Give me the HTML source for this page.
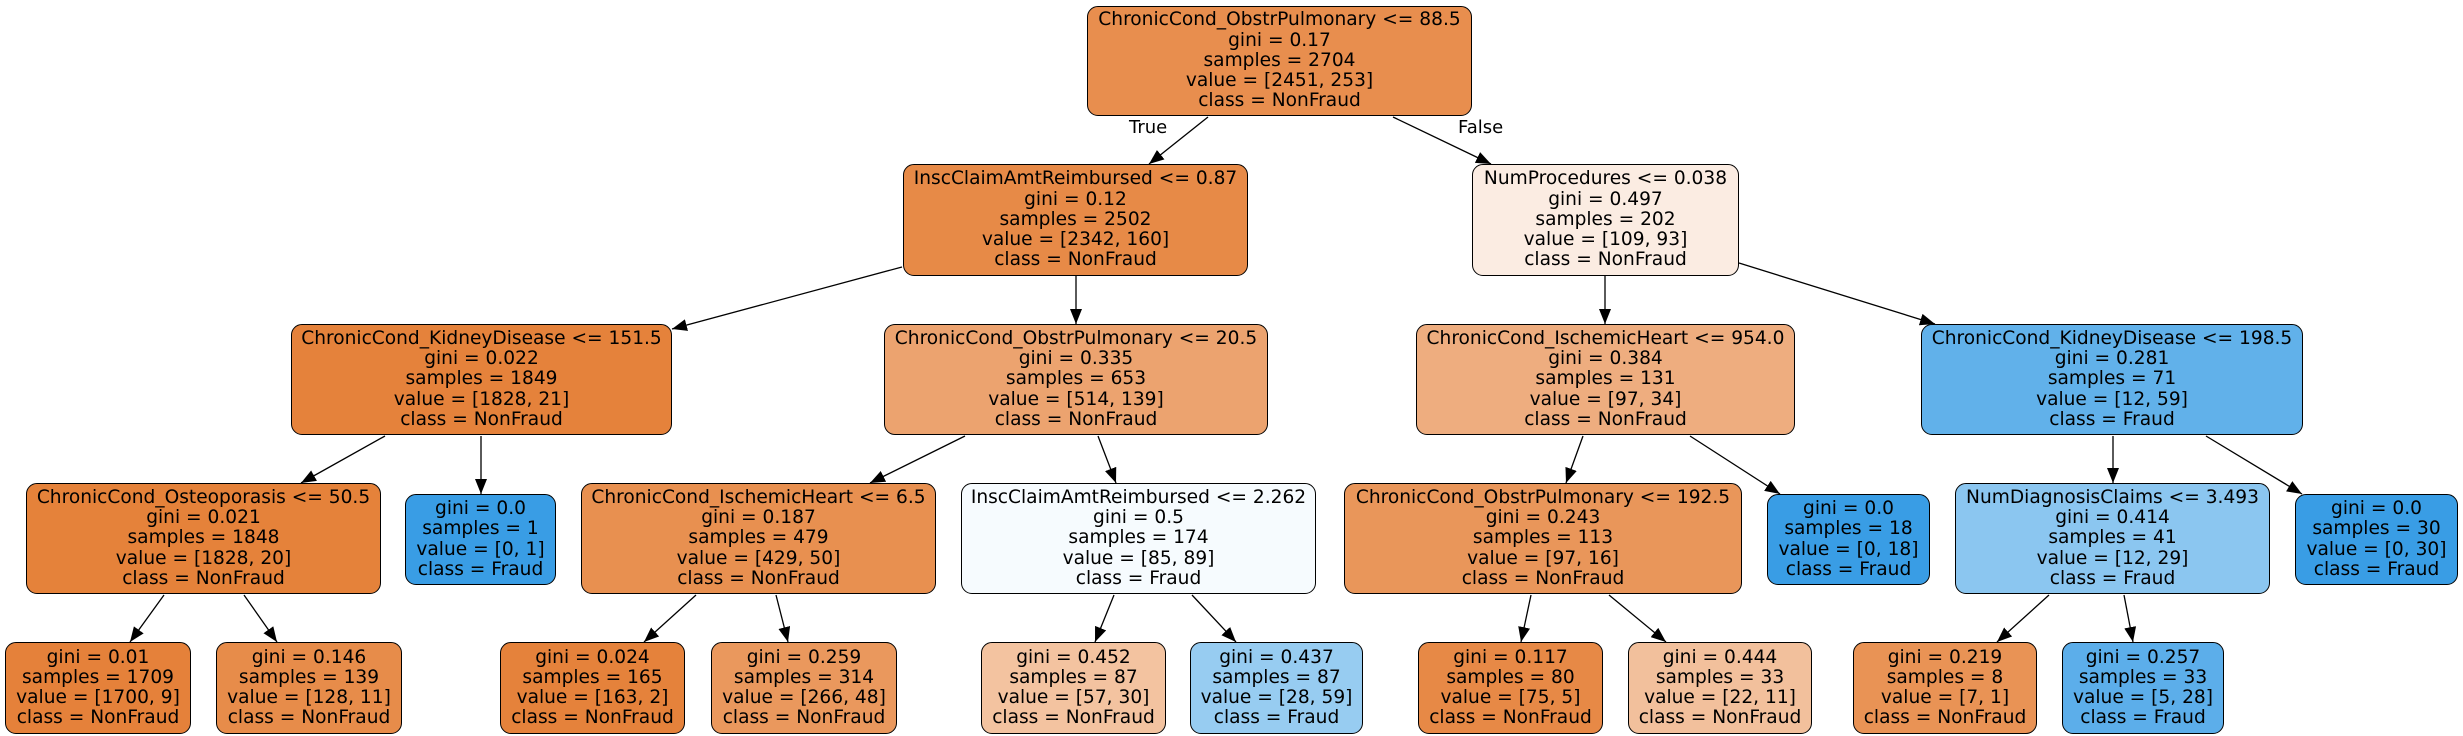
<!DOCTYPE html>
<html><head><meta charset="utf-8"><style>
html,body{margin:0;padding:0;background:#fff;}
body{width:2463px;height:736px;position:relative;overflow:hidden;font-family:"DejaVu Sans","Liberation Sans",sans-serif;}
.n{position:absolute;box-sizing:border-box;border:1.4px solid #000;border-radius:11px;display:flex;flex-direction:column;justify-content:center;align-items:center;text-align:center;font-size:18.6px;line-height:20.2px;color:#000;white-space:nowrap;}
.l{position:absolute;font-size:18px;color:#000;}
svg{position:absolute;left:0;top:0;}
</style></head><body>
<svg width="2463" height="736">
<defs><marker id="a" markerUnits="userSpaceOnUse" markerWidth="16" markerHeight="12" refX="15" refY="6" orient="auto"><path d="M0,0 L15,6 L0,12 z" fill="#000"/></marker></defs>
<g stroke="#000" stroke-width="1.3" marker-end="url(#a)">
<line x1="1208" y1="117" x2="1149" y2="164"/>
<line x1="1393" y1="117" x2="1491" y2="164"/>
<line x1="902" y1="267" x2="672" y2="329"/>
<line x1="1076" y1="276" x2="1076" y2="324"/>
<line x1="385" y1="436" x2="301" y2="483"/>
<line x1="481" y1="436" x2="481" y2="494"/>
<line x1="965" y1="436" x2="870" y2="483"/>
<line x1="1098" y1="436" x2="1116" y2="483"/>
<line x1="164" y1="595" x2="130" y2="642"/>
<line x1="244" y1="595" x2="277" y2="642"/>
<line x1="696" y1="595" x2="644" y2="642"/>
<line x1="776" y1="595" x2="788" y2="642"/>
<line x1="1114" y1="595" x2="1095" y2="642"/>
<line x1="1192" y1="595" x2="1236" y2="642"/>
<line x1="1605" y1="276" x2="1605" y2="324"/>
<line x1="1739" y1="263" x2="1935" y2="324"/>
<line x1="1583" y1="436" x2="1566" y2="483"/>
<line x1="1690" y1="436" x2="1780" y2="494"/>
<line x1="2113" y1="436" x2="2113" y2="483"/>
<line x1="2206" y1="436" x2="2302" y2="494"/>
<line x1="1531" y1="595" x2="1521" y2="642"/>
<line x1="1609" y1="595" x2="1666" y2="642"/>
<line x1="2049" y1="595" x2="1997" y2="642"/>
<line x1="2124" y1="595" x2="2133" y2="642"/>
</g></svg>
<div class="l" style="left:1129px;top:117px;">True</div>
<div class="l" style="left:1458px;top:117px;">False</div>

<div class="n" style="left:1087px;top:6px;width:385px;height:110px;background:#e88e4e">ChronicCond_ObstrPulmonary &lt;= 88.5<br>gini = 0.17<br>samples = 2704<br>value = [2451, 253]<br>class = NonFraud</div>

<div class="n" style="left:903px;top:164px;width:345px;height:112px;background:#e78a47">InscClaimAmtReimbursed &lt;= 0.87<br>gini = 0.12<br>samples = 2502<br>value = [2342, 160]<br>class = NonFraud</div>
<div class="n" style="left:1472px;top:164px;width:267px;height:112px;background:#fbece2">NumProcedures &lt;= 0.038<br>gini = 0.497<br>samples = 202<br>value = [109, 93]<br>class = NonFraud</div>

<div class="n" style="left:291px;top:324px;width:381px;height:111px;background:#e5823b">ChronicCond_KidneyDisease &lt;= 151.5<br>gini = 0.022<br>samples = 1849<br>value = [1828, 21]<br>class = NonFraud</div>
<div class="n" style="left:884px;top:324px;width:384px;height:111px;background:#eca36f">ChronicCond_ObstrPulmonary &lt;= 20.5<br>gini = 0.335<br>samples = 653<br>value = [514, 139]<br>class = NonFraud</div>
<div class="n" style="left:1416px;top:324px;width:379px;height:111px;background:#eead7f">ChronicCond_IschemicHeart &lt;= 954.0<br>gini = 0.384<br>samples = 131<br>value = [97, 34]<br>class = NonFraud</div>
<div class="n" style="left:1921px;top:324px;width:382px;height:111px;background:#61b1ea">ChronicCond_KidneyDisease &lt;= 198.5<br>gini = 0.281<br>samples = 71<br>value = [12, 59]<br>class = Fraud</div>

<div class="n" style="left:26px;top:483px;width:355px;height:111px;background:#e5823a">ChronicCond_Osteoporasis &lt;= 50.5<br>gini = 0.021<br>samples = 1848<br>value = [1828, 20]<br>class = NonFraud</div>
<div class="n" style="left:405px;top:494px;width:151px;height:91px;background:#399de5">gini = 0.0<br>samples = 1<br>value = [0, 1]<br>class = Fraud</div>
<div class="n" style="left:581px;top:483px;width:355px;height:111px;background:#e89050">ChronicCond_IschemicHeart &lt;= 6.5<br>gini = 0.187<br>samples = 479<br>value = [429, 50]<br>class = NonFraud</div>
<div class="n" style="left:961px;top:483px;width:355px;height:111px;background:#f6fbfe">InscClaimAmtReimbursed &lt;= 2.262<br>gini = 0.5<br>samples = 174<br>value = [85, 89]<br>class = Fraud</div>
<div class="n" style="left:1344px;top:483px;width:398px;height:111px;background:#e9965a">ChronicCond_ObstrPulmonary &lt;= 192.5<br>gini = 0.243<br>samples = 113<br>value = [97, 16]<br>class = NonFraud</div>
<div class="n" style="left:1767px;top:494px;width:163px;height:91px;background:#399de5">gini = 0.0<br>samples = 18<br>value = [0, 18]<br>class = Fraud</div>
<div class="n" style="left:1955px;top:483px;width:315px;height:111px;background:#8bc6f0">NumDiagnosisClaims &lt;= 3.493<br>gini = 0.414<br>samples = 41<br>value = [12, 29]<br>class = Fraud</div>
<div class="n" style="left:2295px;top:494px;width:163px;height:91px;background:#399de5">gini = 0.0<br>samples = 30<br>value = [0, 30]<br>class = Fraud</div>

<div class="n" style="left:5px;top:642px;width:186px;height:92px;background:#e5813a">gini = 0.01<br>samples = 1709<br>value = [1700, 9]<br>class = NonFraud</div>
<div class="n" style="left:216px;top:642px;width:186px;height:92px;background:#e78c4a">gini = 0.146<br>samples = 139<br>value = [128, 11]<br>class = NonFraud</div>
<div class="n" style="left:500px;top:642px;width:185px;height:92px;background:#e5823b">gini = 0.024<br>samples = 165<br>value = [163, 2]<br>class = NonFraud</div>
<div class="n" style="left:711px;top:642px;width:186px;height:92px;background:#ea985d">gini = 0.259<br>samples = 314<br>value = [266, 48]<br>class = NonFraud</div>
<div class="n" style="left:981px;top:642px;width:185px;height:92px;background:#f3c3a0">gini = 0.452<br>samples = 87<br>value = [57, 30]<br>class = NonFraud</div>
<div class="n" style="left:1190px;top:642px;width:173px;height:92px;background:#97ccf1">gini = 0.437<br>samples = 87<br>value = [28, 59]<br>class = Fraud</div>
<div class="n" style="left:1418px;top:642px;width:185px;height:92px;background:#e78946">gini = 0.117<br>samples = 80<br>value = [75, 5]<br>class = NonFraud</div>
<div class="n" style="left:1628px;top:642px;width:184px;height:92px;background:#f2c09c">gini = 0.444<br>samples = 33<br>value = [22, 11]<br>class = NonFraud</div>
<div class="n" style="left:1853px;top:642px;width:184px;height:92px;background:#e99355">gini = 0.219<br>samples = 8<br>value = [7, 1]<br>class = NonFraud</div>
<div class="n" style="left:2062px;top:642px;width:162px;height:92px;background:#5caeea">gini = 0.257<br>samples = 33<br>value = [5, 28]<br>class = Fraud</div>
</body></html>
